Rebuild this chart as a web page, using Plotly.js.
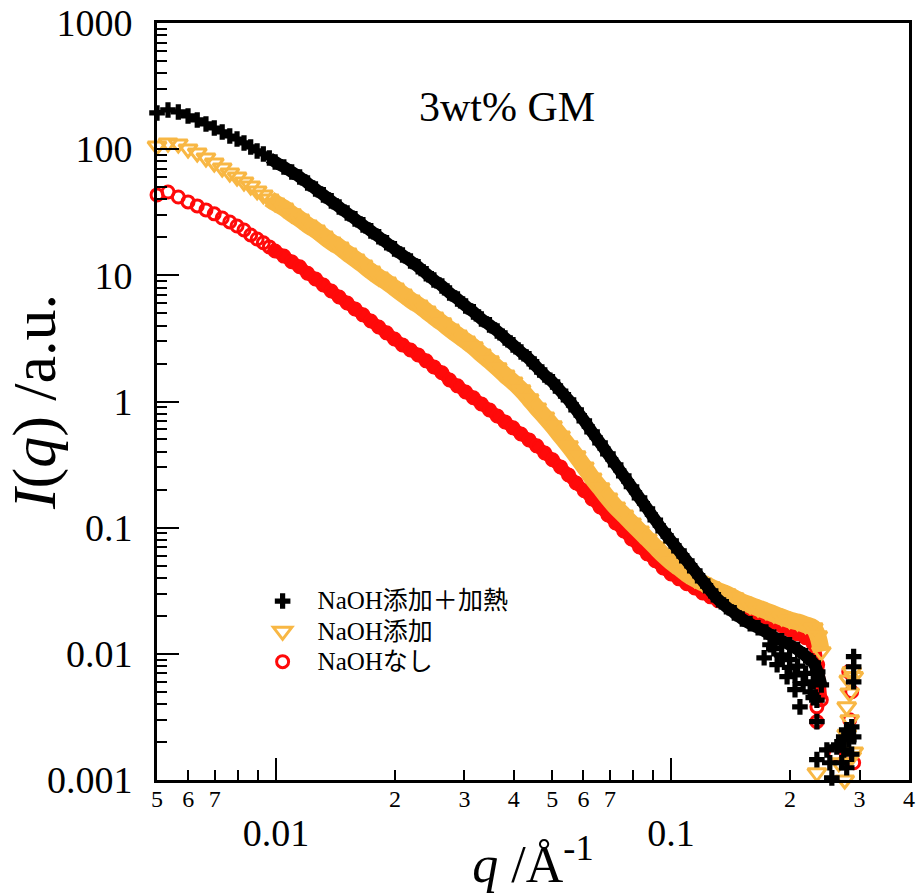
<!DOCTYPE html>
<html>
<head>
<meta charset="utf-8">
<script src="https://cdn.plot.ly/plotly-3.0.1.min.js"></script>
<style>html,body{margin:0;padding:0;background:#fff;}#chart{width:916px;height:893px;}</style>
</head>
<body>
<div id="chart"></div>
<script>
// ---- data (q in 1/Å, intensity in a.u.) ----
const qMain = [0.00500, 0.00533, 0.00566, 0.00599, 0.00632, 0.00665, 0.00698, 0.00731, 0.00764, 0.00797, 0.00830, 0.00863, 0.00896, 0.00929, 0.00962, 0.00995,
  0.01047, 0.01096, 0.01148, 0.01202, 0.01259, 0.01318, 0.01380, 0.01445, 0.01514, 0.01585,
  0.0166, 0.01738, 0.0182, 0.01905, 0.01995, 0.0209, 0.0219, 0.0229, 0.0240, 0.0251,
  0.0263, 0.0275, 0.0288, 0.0302, 0.0316, 0.0331, 0.0347, 0.0363, 0.0380, 0.0398,
  0.0417, 0.0437, 0.0457, 0.0479, 0.0501, 0.0525, 0.0550, 0.0575, 0.0603, 0.0631,
  0.0661, 0.0692, 0.0724, 0.0759, 0.0794, 0.0832, 0.0871, 0.0912, 0.0955, 0.1000,
  0.1047, 0.1096, 0.1148, 0.1202, 0.1259, 0.1318, 0.1380, 0.1445, 0.1514, 0.1585,
  0.166, 0.1738, 0.182, 0.1905, 0.1995, 0.209, 0.219, 0.229, 0.235, 0.240];

const iHeated = [193.6, 204.5, 197.2, 183.3, 170.4, 158.4, 147.2, 136.9, 127.2, 120.4, 112.0, 104.1, 96.8, 91.6, 85.2, 79.2,
  72.3, 66.0, 60.2, 54.0, 48.4, 43.4, 38.9, 34.8, 31.2, 28.0,
  25.1, 22.5, 20.2, 18.1, 16.2, 14.5, 13.0, 11.7, 10.3, 9.19,
  8.24, 7.25, 6.50, 5.72, 5.13, 4.51, 4.05, 3.62, 3.19, 2.81,
  2.47, 2.18, 1.88, 1.62, 1.43, 1.21, 1.03, 0.858, 0.702, 0.574,
  0.470, 0.384, 0.315, 0.257, 0.211, 0.172, 0.141, 0.115, 0.0943, 0.0786,
  0.0655, 0.0546, 0.0455, 0.0379, 0.0316, 0.0268, 0.0236, 0.0211, 0.0189, 0.0173,
  0.0161, 0.0149, 0.0136, 0.0127, 0.0118, 0.0108, 0.00964, 0.00849, 0.00720, 0.00568];

const iAdded = [106, 112, 110, 100.4, 93.3, 85.2, 77.7, 71.0, 64.8, 60.2, 55.0, 51.1, 46.7, 43.4, 40.3, 37.5,
  34.2, 30.7, 28.0, 25.1, 22.9, 20.5, 18.4, 16.8, 15.0, 13.5,
  12.1, 10.8, 9.71, 8.87, 7.95, 7.12, 6.38, 5.83, 5.22, 4.68,
  4.20, 3.76, 3.37, 3.02, 2.71, 2.38, 2.10, 1.85, 1.62, 1.43,
  1.24, 1.05, 0.890, 0.755, 0.641, 0.534, 0.445, 0.371, 0.303, 0.248,
  0.207, 0.172, 0.146, 0.126, 0.109, 0.0943, 0.0815, 0.0704, 0.0609, 0.0536,
  0.0480, 0.0430, 0.0393, 0.0365, 0.0340, 0.0316, 0.0299, 0.0278, 0.0258, 0.0244,
  0.0231, 0.0219, 0.0207, 0.0196, 0.0186, 0.0179, 0.0170, 0.0161, 0.0139, 0.0104];

const iNone = [43.4, 45.8, 41.8, 38.2, 35.5, 33.0, 30.7, 28.5, 26.5, 24.6, 22.9, 20.9, 19.4, 18.1, 16.8, 15.6,
  14.2, 12.8, 11.7, 10.4, 9.37, 8.39, 7.52, 6.74, 6.04, 5.42,
  4.86, 4.35, 3.90, 3.50, 3.13, 2.81, 2.56, 2.34, 2.10, 1.88,
  1.69, 1.48, 1.33, 1.19, 1.07, 0.957, 0.858, 0.769, 0.689, 0.618,
  0.553, 0.496, 0.445, 0.391, 0.345, 0.303, 0.262, 0.226, 0.196, 0.169,
  0.146, 0.126, 0.109, 0.0943, 0.0815, 0.0704, 0.0620, 0.0546, 0.0480, 0.0430,
  0.0393, 0.0359, 0.0333, 0.0304, 0.0283, 0.0263, 0.0249, 0.0236, 0.0223, 0.0211,
  0.0200, 0.0189, 0.0179, 0.0167, 0.0155, 0.0144, 0.0134, 0.0120, 0.00818, 0.00432];

// scattered high-q points
const qTailHeated = [0.172, 0.1855, 0.1966, 0.2059, 0.2119, 0.2339, 0.2339, 0.2339, 0.2898, 0.2898, 0.2898, 0.2865, 0.2816, 0.2735, 0.2627, 0.2479, 0.2522, 0.2704, 0.2783, 0.2552, 0.2783, 0.2735, 0.2657, 0.2898, 0.2865,
  0.1905, 0.1995, 0.209, 0.219, 0.229, 0.2059, 0.2159, 0.2249, 0.1995, 0.229, 0.1820, 0.1780];
const iTailHeated = [0.0093, 0.0082, 0.0066, 0.0052, 0.0038, 0.0043, 0.0029, 0.00145, 0.0095, 0.0079, 0.0060, 0.00264, 0.00208, 0.00173, 0.00183, 0.00173, 0.00137, 0.00137, 0.00125, 0.00104, 0.0025, 0.0022, 0.0019, 0.0022, 0.0016,
  0.0098, 0.0090, 0.0080, 0.0070, 0.0060, 0.0068, 0.0058, 0.0050, 0.0078, 0.0045, 0.0110, 0.0118];
const qTailAdded = [0.2339, 0.2751, 0.2816, 0.2832, 0.2783, 0.2898, 0.2865, 0.2657, 0.2865, 0.2898, 0.2832, 0.2783];
const iTailAdded = [0.00114, 0.0010, 0.0062, 0.0049, 0.0038, 0.00167, 0.00153, 0.00137, 0.0072, 0.0066, 0.0030, 0.0023];
const qTailNone = [0.2339, 0.2339, 0.2816, 0.2597, 0.2898, 0.2832, 0.2865];
const iTailNone = [0.0038, 0.0029, 0.0072, 0.00158, 0.00137, 0.0030, 0.0050];

const seriesNames = ['NaOH添加＋加熱', 'NaOH添加', 'NaOHなし'];

// tick labels
const xMajorTicks = [0.01, 0.1];
const xMajorLabels = ['0.01', '0.1'];
const xDigitTicks = [0.005, 0.006, 0.007, 0.02, 0.03, 0.04, 0.05, 0.06, 0.07, 0.2, 0.3, 0.4];
const xDigitLabels = ['5', '6', '7', '2', '3', '4', '5', '6', '7', '2', '3', '4'];
const xUnlabeledTicks = [0.008, 0.009, 0.08, 0.09];
const yMajorTicks = [0.001, 0.01, 0.1, 1, 10, 100, 1000];
const yMajorLabels = ['0.001', '0.01', '0.1', '1', '10', '100', '1000'];
const yMinorMantissas = [2, 3, 4, 5, 6, 7, 8, 9];

// ---- figure ----
const FONT = '"Liberation Serif", "Times New Roman", "Noto Sans CJK JP", serif';
const COL_BLACK = '#000000', COL_ORANGE = '#F8B744', COL_RED = '#FF0A0A';
const SMOOTH_FROM = 14;

const yMinorTicks = [];
yMajorTicks.slice(0, -1).forEach(d => yMinorMantissas.forEach(m => yMinorTicks.push(+(d * m).toPrecision(3))));

function band(q, I, color, width) {
  return {x: q.slice(SMOOTH_FROM), y: I.slice(SMOOTH_FROM), type: 'scatter', mode: 'lines',
    line: {color: color, width: width, shape: 'spline', smoothing: 1}, showlegend: false, hoverinfo: 'skip', cliponaxis: false};
}
function legendName(s) { return '<span style="font-size:25px">' + s + '</span>'; }

const traces = [
  band(qMain, iNone, COL_RED, 12),
  {x: qMain.concat(qTailNone), y: iNone.concat(iTailNone), name: legendName(seriesNames[2]), type: 'scatter', mode: 'markers',
    marker: {symbol: 'circle-open', size: 12, color: COL_RED, line: {width: 3, color: COL_RED}}, cliponaxis: false},
  band(qMain, iAdded, COL_ORANGE, 17),
  {x: qMain.concat(qTailAdded), y: iAdded.concat(iTailAdded), name: legendName(seriesNames[1]), type: 'scatter', mode: 'markers',
    marker: {symbol: 'triangle-down-open', size: 16, color: COL_ORANGE, line: {width: 3, color: COL_ORANGE}}, cliponaxis: false},
  band(qMain, iHeated, COL_BLACK, 12),
  {x: qMain.concat(qTailHeated), y: iHeated.concat(iTailHeated), name: legendName(seriesNames[0]), type: 'scatter', mode: 'markers',
    marker: {symbol: 'cross', size: 13, color: COL_BLACK, line: {width: 0}}, cliponaxis: false},
  {x: [], y: [], xaxis: 'x2', yaxis: 'y', type: 'scatter', mode: 'markers', showlegend: false, hoverinfo: 'skip'}
];

const xRange = [Math.log10(0.005) - 1e-4, Math.log10(0.4) + 1e-4];

const layout = {
  width: 916, height: 893,
  margin: {l: 157, r: 7, t: 23, b: 113},
  paper_bgcolor: '#ffffff', plot_bgcolor: '#ffffff',
  font: {family: FONT, color: '#000'},
  showlegend: true,
  legend: {x: 0.1205, y: 0.263, xanchor: 'left', yanchor: 'top', traceorder: 'reversed',
    font: {family: FONT, size: 21, color: '#000'}, bgcolor: 'rgba(0,0,0,0)', itemwidth: 60, tracegroupgap: 0},
  xaxis: {type: 'log', range: xRange, tickmode: 'array', tickvals: xMajorTicks, ticktext: xMajorLabels,
    ticks: 'inside', ticklen: 22, tickwidth: 2, tickcolor: '#000',
    showline: true, linewidth: 3, linecolor: '#000', mirror: true, showgrid: false, zeroline: false,
    tickfont: {family: FONT, size: 38, color: '#000'}, ticklabelstandoff: 17, automargin: false,
    title: {text: '<i>q</i> /Å<sup>-1</sup>', font: {family: FONT, size: 52, color: '#000'}, standoff: 0}},
  xaxis2: {type: 'log', range: xRange, overlaying: 'x', anchor: 'y', side: 'bottom',
    tickmode: 'array', tickvals: xDigitTicks, ticktext: xDigitLabels, ticklabeloverflow: 'allow',
    ticks: 'inside', ticklen: 10, tickwidth: 2, tickcolor: '#000',
    minor: {tickmode: 'array', tickvals: xUnlabeledTicks, ticks: 'inside', ticklen: 10, tickwidth: 2, tickcolor: '#000', showgrid: false},
    showline: false, showgrid: false, zeroline: false, automargin: false,
    tickfont: {family: FONT, size: 24, color: '#000'}, ticklabelstandoff: 2},
  yaxis: {type: 'log', range: [-3, 3], tickmode: 'array', tickvals: yMajorTicks, ticktext: yMajorLabels,
    ticks: 'inside', ticklen: 22, tickwidth: 2, tickcolor: '#000',
    minor: {tickmode: 'array', tickvals: yMinorTicks, ticks: 'inside', ticklen: 10, tickwidth: 2, tickcolor: '#000', showgrid: false},
    showline: true, linewidth: 3, linecolor: '#000', mirror: true, showgrid: false, zeroline: false,
    tickfont: {family: FONT, size: 38, color: '#000'}, ticklabelstandoff: 14, automargin: false,
    title: {text: '<i>I</i>(<i>q</i>) /a.u.', font: {family: FONT, size: 62, color: '#000'}, standoff: 0}},
  annotations: [
    {text: '3wt% GM', xref: 'paper', yref: 'paper', x: 0.465, y: 0.889, xanchor: 'center', yanchor: 'middle',
      showarrow: false, font: {family: FONT, size: 42, color: '#000'}}
  ]
};

Plotly.newPlot('chart', traces, layout, {displayModeBar: false, staticPlot: true});
</script>
</body>
</html>
